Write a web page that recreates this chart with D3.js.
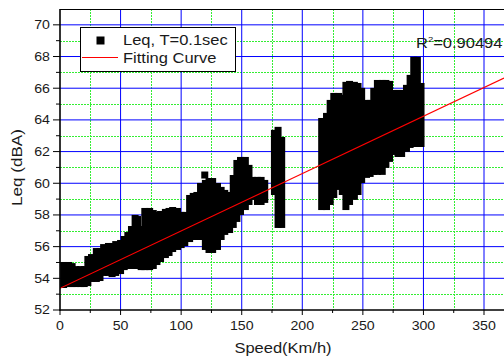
<!DOCTYPE html>
<html>
<head>
<meta charset="utf-8">
<script src="https://cdn.jsdelivr.net/npm/d3@7"></script>
<style>
  html, body { margin: 0; padding: 0; background: #fff; }
  svg { display: block; font-family: "Liberation Sans", Arial, sans-serif; }
</style>
</head>
<body>
<svg id="chart" width="504" height="358"></svg>
<script>
// Leq (T = 0.1 s) spread at each train speed: highest and lowest reading per speed step
const speedKmh = [3, 7, 10, 13, 17, 20, 23, 26, 30, 33, 36, 40, 43, 46, 50, 53, 56, 59, 62, 64,
  67, 70, 74, 77, 80, 83, 87, 90, 93, 97, 100, 103, 107, 110, 113, 116, 119.5, 120, 123, 126,
  130, 133, 136, 140, 143, 146, 149, 153, 156, 159, 163, 166, 169,
  177, 180, 183,
  216, 220, 223, 226, 230, 233, 236, 239, 243, 246, 249, 253, 256, 259, 262, 266, 269, 272,
  276, 279, 282, 286, 289, 292, 295, 298];
const leqMax = [54.81, 54.81, 54.74, 54.55, 54.55, 54.55, 55.19, 55.31, 55.69, 55.69, 55.94, 56.01, 56.01, 56.13, 56.20, 56.45, 56.70, 57.08, 57.78, 57.71,
  57.08, 58.22, 58.22, 58.09, 57.97, 58.03, 58.16, 58.22, 58.28, 58.22, 57.97, 57.97, 59.04, 59.17, 59.23, 59.80, 60.52, 59.99, 60.11, 60.11,
  59.80, 59.55, 59.36, 59.23, 60.30, 61.25, 61.44, 61.44, 60.94, 60.18, 60.18, 60.18, 59.99,
  63.15, 63.34, 62.70,
  63.90, 64.22, 65.04, 65.48, 65.48, 65.36, 66.18, 66.24, 66.18, 66.11, 65.80, 65.04, 65.04, 65.80, 66.30, 66.30, 66.30, 66.24,
  65.67, 65.67, 65.67, 65.99, 66.62, 67.76, 67.76, 66.11];
const leqMin = [53.61, 53.67, 53.67, 53.67, 53.67, 53.67, 53.73, 53.99, 53.99, 54.05, 54.37, 54.37, 54.30, 54.37, 54.49, 54.74, 54.81, 54.81, 54.81, 54.81,
  54.74, 54.74, 54.74, 54.81, 55.06, 55.25, 55.50, 55.63, 55.88, 56.01, 56.13, 56.26, 56.51, 56.64, 56.64, 56.64, 60.52, 56.01, 55.82, 55.82,
  56.01, 56.64, 56.96, 57.08, 57.40, 57.78, 58.22, 58.53, 58.85, 59.17, 58.85, 58.85, 58.98,
  59.48, 57.40, 57.40,
  58.53, 58.53, 58.85, 59.29, 59.80, 59.48, 58.53, 58.85, 59.17, 59.48, 60.24, 60.56, 60.62, 60.75, 60.75, 60.75, 61.19, 61.57,
  62.01, 61.88, 61.88, 62.20, 62.45, 62.51, 62.51, 62.51];

// Linear fit of Leq against speed
const fitIntercept = 53.37;
const fitSlope = 0.0362;
const rSquaredText = "0.90494";

const xMajor = [0, 50, 100, 150, 200, 250, 300, 350];
const xMinor = [25, 75, 125, 175, 225, 275, 325];
const yMajor = [52, 54, 56, 58, 60, 62, 64, 66, 68, 70];
const yMinor = [53, 55, 57, 59, 61, 63, 65, 67, 69];

const legendLabels = ["Leq, T=0.1sec", "Fitting Curve"];
const xTitle = "Speed(Km/h)";
const yTitle = "Leq (dBA)";

const svg = d3.select("#chart");
const pL = 60, pR = 504, pT = 9, pB = 310;
const x = d3.scaleLinear().domain([0, 366.5]).range([pL, pR]);
const y = d3.scaleLinear().domain([52, 71]).range([pB, pT]);
const stretch = 1.18;
const ink = "#1a1a1a";
const crisp = v => Math.round(v) + 0.5;

// horizontally widened text, as the plotting program renders it
function label(g, px, py, str, size, anchor) {
  return g.append("text")
    .attr("transform", `translate(${px},${py}) scale(${stretch},1)`)
    .attr("text-anchor", anchor)
    .attr("font-size", size)
    .attr("fill", ink)
    .text(str);
}

svg.append("defs").append("clipPath").attr("id", "plot")
  .append("rect").attr("x", pL).attr("y", pT)
  .attr("width", pR - pL).attr("height", pB - pT);

// grid: dotted green minor lines, solid blue major lines
const grid = svg.append("g");
grid.selectAll(".gxm").data(xMinor).join("line")
  .attr("x1", d => crisp(x(d))).attr("x2", d => crisp(x(d))).attr("y1", pT).attr("y2", pB)
  .attr("stroke", "#33ee33").attr("stroke-dasharray", "2,1");
grid.selectAll(".gym").data(yMinor).join("line")
  .attr("x1", pL).attr("x2", pR).attr("y1", d => crisp(y(d))).attr("y2", d => crisp(y(d)))
  .attr("stroke", "#33ee33").attr("stroke-dasharray", "2,1");
grid.selectAll(".gxM").data(xMajor.filter(d => d > 0)).join("line")
  .attr("x1", d => x(d)).attr("x2", d => x(d)).attr("y1", pT).attr("y2", pB)
  .attr("stroke", "#0000ff");
grid.selectAll(".gyM").data(yMajor.filter(d => d > 52)).join("line")
  .attr("x1", pL).attr("x2", pR).attr("y1", d => y(d)).attr("y2", d => y(d))
  .attr("stroke", "#0000ff");

// measured Leq: square markers stacked from the lowest to the highest reading
const ms = 7;
const samples = speedKmh.map((s, i) => ({ s, hi: leqMax[i], lo: leqMin[i] }));
svg.append("g").selectAll("rect").data(samples).join("rect")
  .attr("x", d => x(d.s) - ms / 2)
  .attr("y", d => y(d.hi) - ms / 2)
  .attr("width", ms)
  .attr("height", d => y(d.lo) - y(d.hi) + ms)
  .attr("fill", "#000");

// fitted line
const xd = x.domain();
svg.append("line")
  .attr("clip-path", "url(#plot)")
  .attr("x1", x(xd[0])).attr("y1", y(fitIntercept + fitSlope * xd[0]))
  .attr("x2", x(xd[1])).attr("y2", y(fitIntercept + fitSlope * xd[1]))
  .attr("stroke", "#ff0000").attr("stroke-width", 1.1);

// frame and axes
svg.append("line").attr("x1", pL).attr("x2", pR).attr("y1", pT + 0.5).attr("y2", pT + 0.5)
  .attr("stroke", "#000").attr("stroke-width", 1);
const ax = svg.append("g");
ax.selectAll(".txM").data(xMajor).join("line")
  .attr("x1", d => x(d)).attr("x2", d => x(d)).attr("y1", pB).attr("y2", pB + 5)
  .attr("stroke", "#000");
ax.selectAll(".txm").data(xMinor).join("line")
  .attr("x1", d => x(d)).attr("x2", d => x(d)).attr("y1", pB).attr("y2", pB + 3)
  .attr("stroke", "#000");
ax.selectAll(".tyM").data(yMajor).join("line")
  .attr("x1", pL - 7).attr("x2", pL).attr("y1", d => y(d)).attr("y2", d => y(d))
  .attr("stroke", "#000");
ax.selectAll(".tym").data(yMinor).join("line")
  .attr("x1", pL - 4).attr("x2", pL).attr("y1", d => y(d)).attr("y2", d => y(d))
  .attr("stroke", "#000");
ax.append("line").attr("x1", pL - 0.5).attr("x2", pR).attr("y1", pB).attr("y2", pB)
  .attr("stroke", "#000").attr("stroke-width", 1.6);
ax.append("line").attr("x1", pL).attr("x2", pL).attr("y1", pT).attr("y2", pB + 0.8)
  .attr("stroke", "#000").attr("stroke-width", 1.6);

xMajor.forEach(v => label(ax, x(v), 330, String(v), 12, "middle"));
yMajor.forEach(v => label(ax, 50, y(v) + 4.3, String(v), 12, "end"));
label(svg, (pL + pR) / 2 + 1, 353, xTitle, 14, "middle");
svg.append("text")
  .attr("transform", `translate(21.5,${(pT + pB) / 2 + 8}) rotate(-90) scale(1.22,1)`)
  .attr("text-anchor", "middle").attr("font-size", 14).attr("fill", ink)
  .text(yTitle);

// R² annotation
const r2 = svg.append("text")
  .attr("transform", `translate(416,48.3) scale(${stretch},1)`)
  .attr("font-size", 14).attr("fill", ink);
r2.append("tspan").text("R");
r2.append("tspan").attr("font-size", 8).attr("dy", -6).text("2");
r2.append("tspan").attr("dy", 6).text("=" + rSquaredText);

// legend
const lg = svg.append("g");
lg.append("rect").attr("x", 80.5).attr("y", 27.5).attr("width", 155).attr("height", 44)
  .attr("fill", "#fff").attr("stroke", "#000").attr("stroke-width", 1);
lg.append("rect").attr("x", 96.5).attr("y", 36.5).attr("width", 8).attr("height", 8).attr("fill", "#000");
lg.append("line").attr("x1", 82).attr("x2", 118).attr("y1", 57.5).attr("y2", 57.5)
  .attr("stroke", "#ff0000").attr("stroke-width", 1);
legendLabels.forEach((t, i) => label(lg, 123, 45 + i * 17.7, t, 14, "start"));
</script>
</body>
</html>
